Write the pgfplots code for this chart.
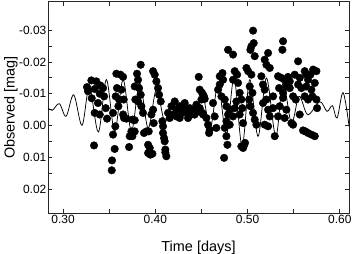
\documentclass[border=0pt]{standalone}
\usepackage{pgfplots}
\pgfplotsset{compat=1.18}
\usepackage{fontspec}
\setmainfont{Liberation Sans}
\begin{document}
\begin{tikzpicture}
\begin{axis}[
  name=ax,
  scale only axis,
  width=301bp, height=211bp,
  xmin=0.2837, xmax=0.6100,
  ymin=-0.0388, ymax=0.0274,
  y dir=reverse,
  xtick={0.30,0.40,0.50,0.60},
  xticklabels={0.30,0.40,0.50,0.60},
  ytick={-0.03,-0.02,-0.01,0,0.01,0.02},
  yticklabels={-0.03,-0.02,-0.01,0.00,0.01,0.02},
  minor tick num=1,
  major tick length=4bp, minor tick length=4bp,
  tick style={line width=0.8pt, color=black!85},
  axis line style={line width=1pt, color=black!85},
  tick align=inside,
  /pgf/number format/assume math mode=true,
  ticklabel style={font=\fontsize{12}{14}\selectfont},
  xticklabel style={inner sep=2bp},
  yticklabel style={inner sep=1.5bp},
  xlabel={Time [days]},
  ylabel={Observed [mag]},
  label style={font=\fontsize{14.5}{16}\selectfont},
  x label style={at={(axis description cs:0.5,-0.163)}, anchor=center},
  y label style={at={(axis description cs:-0.123,0.5)}, anchor=center},
  clip=true,
]
\addplot[black, line width=0.75pt, smooth, tension=0.55] coordinates {
(0.2837,-0.00554) (0.2884,-0.00481) (0.2960,-0.00690) (0.3033,-0.00293)
(0.3116,-0.00969) (0.3206,-0.00010) (0.3286,-0.01213) (0.3383,0.00199)
(0.3470,-0.01444) (0.3560,0.00178) (0.3651,-0.01444) (0.3741,0.00178)
(0.3831,-0.01339) (0.3922,0.00073) (0.4012,-0.01130) (0.4102,-0.00136)
(0.4185,-0.00764) (0.4265,-0.00293) (0.4348,-0.00659) (0.4427,-0.00241)
(0.4511,-0.00973) (0.4597,0.00073) (0.4681,-0.01287) (0.4771,0.00282)
(0.4854,-0.01496) (0.4941,0.00649) (0.5024,-0.01444) (0.5114,0.00335)
(0.5205,-0.01496) (0.5306,0.00335) (0.5385,-0.01339) (0.5476,-0.00084)
(0.5559,-0.00921) (0.5653,-0.00345) (0.5783,-0.00753) (0.5862,-0.00450)
(0.5920,-0.00628) (0.5971,-0.00241) (0.6036,-0.01036) (0.6101,0.00020)
};
\addplot[only marks, mark=*, mark size=3.8bp, mark options={fill=black, draw=black}] coordinates {
(0.3260,-0.0121) (0.3307,-0.0142) (0.3361,-0.0139) (0.3405,-0.0126) (0.3343,-0.0115)
(0.3398,-0.0100) (0.3445,-0.0092) (0.3311,-0.0086) (0.3379,-0.0071) (0.3343,-0.0040)
(0.3398,-0.0035) (0.3463,-0.0055) (0.3477,-0.0022) (0.3336,0.0062) (0.3271,-0.0108)
(0.3434,-0.0118)
(0.3578,-0.0163) (0.3622,-0.0160) (0.3651,-0.0153) (0.3585,-0.0118) (0.3632,-0.0113)
(0.3658,-0.0082) (0.3571,-0.0092) (0.3600,-0.0061) (0.3651,-0.0035) (0.3567,0.0002)
(0.3542,0.0028) (0.3560,0.0073) (0.3531,0.0109) (0.3528,0.0140) (0.3661,-0.0024)
(0.3687,-0.0022) (0.3723,0.0033) (0.3716,0.0067) (0.3542,-0.0040) (0.3607,-0.0082)
(0.3842,-0.0191) (0.3802,-0.0163) (0.3813,-0.0144) (0.3777,-0.0123) (0.3824,-0.0118)
(0.3842,-0.0097) (0.3784,-0.0082) (0.3813,-0.0076) (0.3849,-0.0061) (0.3867,-0.0040)
(0.3752,-0.0019) (0.3777,-0.0017) (0.3741,0.0018) (0.3777,0.0018) (0.3752,0.0033)
(0.3976,-0.0171) (0.3994,-0.0160) (0.4012,-0.0139) (0.4030,-0.0118) (0.4041,-0.0097)
(0.4059,-0.0076) (0.3976,-0.0050) (0.3958,-0.0035) (0.3983,-0.0008) (0.3904,0.0018)
(0.3878,0.0023) (0.3929,0.0018) (0.3922,0.0060) (0.3940,0.0070) (0.3947,0.0091)
(0.3969,0.0088) (0.3922,0.0086)
(0.4077,-0.0014) (0.4084,0.0002) (0.4084,0.0023) (0.4095,0.0039) (0.4102,0.0049)
(0.4109,0.0075) (0.4120,0.0096) (0.4109,0.0084)
(0.4138,-0.0040) (0.4175,-0.0061) (0.4211,-0.0076) (0.4229,-0.0050) (0.4265,-0.0061)
(0.4294,-0.0040) (0.4319,-0.0071) (0.4337,-0.0045) (0.4373,-0.0055) (0.4391,-0.0035)
(0.4409,-0.0050) (0.4446,-0.0066) (0.4464,-0.0045) (0.4482,-0.0055) (0.4156,-0.0024)
(0.4193,-0.0035) (0.4265,-0.0024) (0.4355,-0.0024) (0.4428,-0.0035) (0.4500,-0.0082)
(0.4518,-0.0035) (0.4229,-0.0029) (0.4301,-0.0055)
(0.4471,-0.0153) (0.4482,-0.0113) (0.4507,-0.0103) (0.4525,-0.0094) (0.4536,-0.0084)
(0.4554,-0.0024) (0.4572,-0.0003) (0.4590,0.0013) (0.4583,0.0023) (0.4511,-0.0040)
(0.4626,-0.0071) (0.4644,-0.0029) (0.4662,0.0007)
(0.4789,-0.0238) (0.4699,-0.0155) (0.4728,-0.0165) (0.4735,-0.0144) (0.4699,-0.0129)
(0.4681,-0.0113) (0.4717,-0.0092) (0.4753,-0.0082) (0.4771,-0.0061) (0.4789,-0.0035)
(0.4771,-0.0014) (0.4753,0.0007) (0.4771,0.0033) (0.4782,0.0060) (0.4746,0.0101)
(0.4807,-0.0003) (0.4807,-0.0050)
(0.4843,-0.0223) (0.4861,-0.0171) (0.4843,-0.0144) (0.4887,-0.0160) (0.4897,-0.0134)
(0.4915,-0.0103) (0.4879,-0.0076) (0.4861,-0.0055) (0.4843,-0.0029) (0.4933,-0.0082)
(0.4944,-0.0055) (0.4915,-0.0035) (0.4952,-0.0008) (0.4933,0.0065) (0.4952,0.0070)
(0.4962,0.0062) (0.4973,0.0054)
(0.5060,-0.0298) (0.5067,-0.0259) (0.5042,-0.0249) (0.5031,-0.0238) (0.5078,-0.0218)
(0.4988,-0.0181) (0.5006,-0.0171) (0.5042,-0.0160) (0.5024,-0.0123) (0.5053,-0.0103)
(0.5017,-0.0082) (0.5031,-0.0061) (0.5060,-0.0040) (0.5078,-0.0019) (0.5096,-0.0003)
(0.5223,-0.0228) (0.5186,-0.0207) (0.5205,-0.0191) (0.5241,-0.0181) (0.5150,-0.0155)
(0.5168,-0.0129) (0.5186,-0.0113) (0.5205,-0.0082) (0.5168,-0.0071) (0.5223,-0.0050)
(0.5241,-0.0029) (0.5186,-0.0003) (0.5223,0.0002) (0.5277,-0.0055) (0.5295,0.0033)
(0.5277,-0.0092)
(0.5385,-0.0265) (0.5378,-0.0238) (0.5331,-0.0155) (0.5367,-0.0150) (0.5403,-0.0144)
(0.5439,-0.0153) (0.5458,-0.0139) (0.5342,-0.0118) (0.5385,-0.0103) (0.5421,-0.0123)
(0.5385,-0.0087) (0.5349,-0.0061) (0.5421,-0.0050) (0.5331,-0.0029) (0.5403,-0.0024)
(0.5476,-0.0008) (0.5494,-0.0003) (0.5458,-0.0118) (0.5494,-0.0092)
(0.5548,-0.0202) (0.5512,-0.0160) (0.5566,-0.0150) (0.5584,-0.0118) (0.5548,-0.0129)
(0.5523,-0.0082) (0.5620,-0.0171) (0.5638,-0.0160) (0.5656,-0.0144) (0.5682,-0.0160)
(0.5711,-0.0176) (0.5747,-0.0171) (0.5729,-0.0134) (0.5692,-0.0113) (0.5638,-0.0123)
(0.5620,-0.0092) (0.5656,-0.0082) (0.5703,-0.0092) (0.5747,-0.0082) (0.5754,-0.0055)
(0.5566,-0.0035) (0.5602,0.0015) (0.5627,0.0018) (0.5656,0.0023) (0.5692,0.0028)
(0.5729,0.0033)
};
\end{axis}
\pgfresetboundingbox
\path[use as bounding box] ([shift={(-48bp,-41bp)}]ax.south west) rectangle ([shift={(5bp,2bp)}]ax.north east);
\end{tikzpicture}
\end{document}
